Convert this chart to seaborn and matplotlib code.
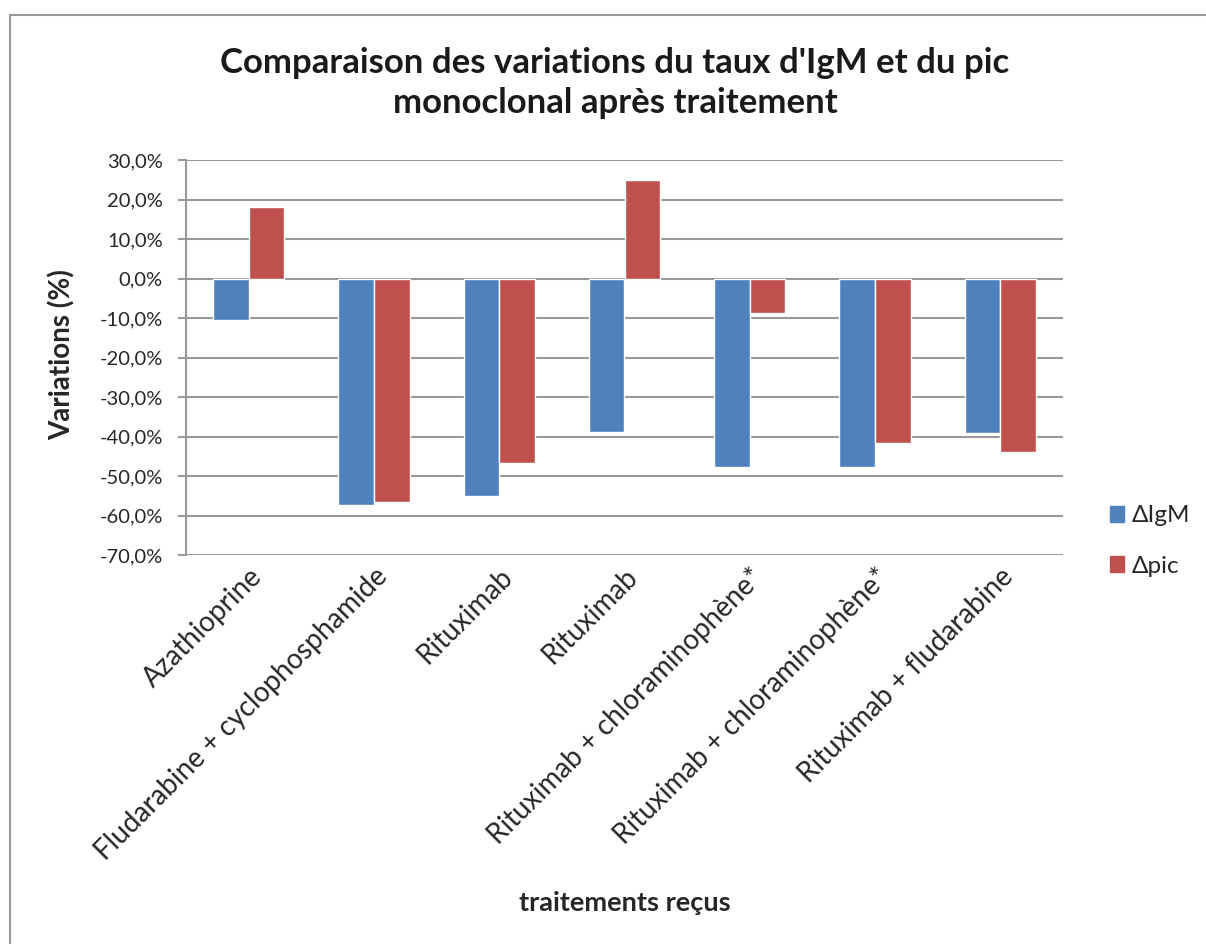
import pandas as pd
import seaborn as sns
import matplotlib.pyplot as plt
from matplotlib.ticker import FuncFormatter
from matplotlib.lines import Line2D

# Données (variations en %)
traitements = ['Azathioprine', 'Fludarabine + cyclophosphamide', 'Rituximab', 'Rituximab',
               'Rituximab + chloraminophène*', 'Rituximab + chloraminophène*',
               'Rituximab + fludarabine']
delta_igm = [-10.5, -57.3, -55.0, -38.8, -47.6, -47.6, -39.0]
delta_pic = [18.0, -56.5, -46.7, 24.9, -8.8, -41.7, -43.8]
series = ['ΔIgM', 'Δpic']
couleurs = ['#4F81BD', '#C0504D']

sns.set_theme(style='white')
plt.rcParams['font.family'] = ['Lato', 'DejaVu Sans']

# Format long pour seaborn (position = index car "Rituximab" apparaît deux fois)
df = pd.DataFrame({
    'pos': list(range(len(traitements))) * 2,
    'serie': [series[0]] * len(traitements) + [series[1]] * len(traitements),
    'valeur': delta_igm + delta_pic,
})

fig = plt.figure(figsize=(12.06, 9.44), dpi=100)
ax = fig.add_axes([186 / 1206, 1 - 555 / 944, (1063 - 186) / 1206, (555 - 160) / 944])

sns.barplot(data=df, x='pos', y='valeur', hue='serie', palette=couleurs,
            width=0.57, ax=ax, legend=False, saturation=1)

ax.set_ylim(-70, 30)
ax.set_yticks(range(-70, 31, 10))
ax.yaxis.set_major_formatter(FuncFormatter(lambda v, p: f'{v:.1f}%'.replace('.', ',')))
ax.set_xlim(-0.5, len(traitements) - 0.5)
ax.set_xticks(range(len(traitements)))
ax.set_xticklabels(traitements, rotation=45, ha='right', rotation_mode='anchor', fontsize=20)
ax.tick_params(axis='y', labelsize=14.5, length=5.8, width=1.5, color='#999999', left=True, pad=11)
ax.tick_params(axis='x', length=0, pad=6)
ax.grid(axis='y', color='#999999', linewidth=1.5)
ax.set_axisbelow(True)
for s in ['top', 'right', 'bottom']:
    ax.spines[s].set_visible(False)
ax.spines['left'].set_color('#999999')
ax.spines['left'].set_linewidth(1.5)

ax.set_xlabel('traitements reçus', fontsize=19.5, fontweight='bold')
ax.set_ylabel('Variations (%)', fontsize=20, fontweight='bold')
ax.xaxis.set_label_coords(0.5, (555 - 903) / 395)
ax.xaxis.label.set_va('center')
ax.yaxis.set_label_coords((62 - 186) / 877, (555 - 355) / 395)
ax.yaxis.label.set_va('center')

fig.text(0.51, 1 - 83 / 944, "Comparaison des variations du taux d'IgM et du pic\nmonoclonal après traitement",
         ha='center', va='center', fontsize=25, fontweight='bold', linespacing=1.3, color='#1a1a1a')

# Légende
handles = [plt.Rectangle((0, 0), 1, 1, color=c) for c in couleurs]
fig.legend(handles, series, loc='center left', bbox_to_anchor=(1088 / 1206, 1 - 541 / 944),
           frameon=False, fontsize=17.5, handlelength=0.6, handleheight=0.6,
           handletextpad=0.3, labelspacing=1.2)

# Bordure du graphique (haut et gauche)
fig.add_artist(Line2D([10 / 1206, 1], [1 - 15 / 944, 1 - 15 / 944], color='#999999', lw=1.5))
fig.add_artist(Line2D([10 / 1206, 10 / 1206], [0, 1 - 15 / 944], color='#999999', lw=1.5))

fig.savefig('out.png', dpi=100)
